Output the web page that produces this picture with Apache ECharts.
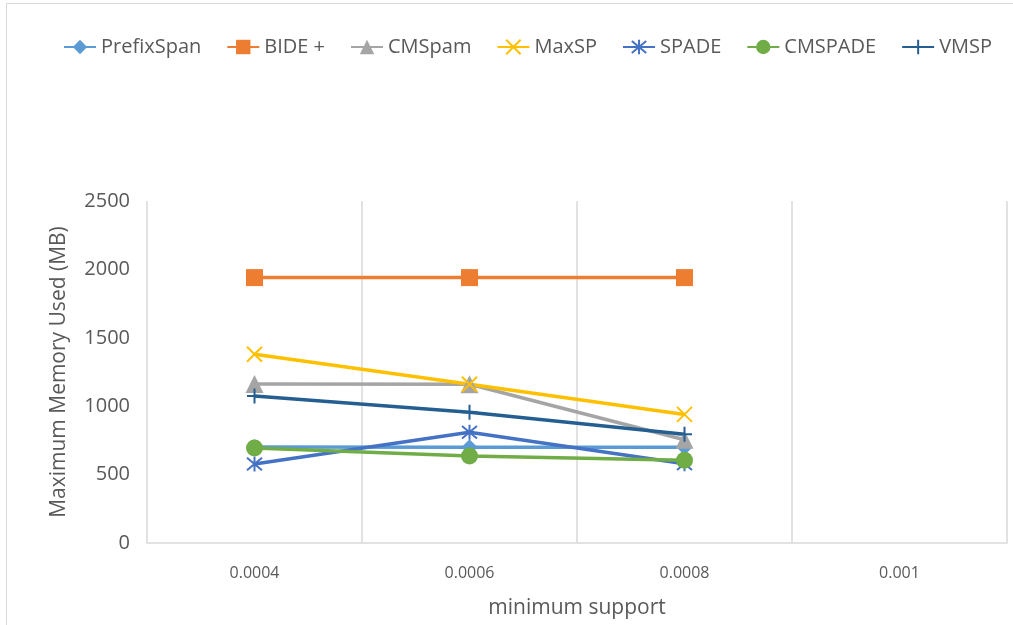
<!DOCTYPE html>
<html>
<head>
<meta charset="utf-8">
<script src="https://cdn.jsdelivr.net/npm/echarts@6/dist/echarts.min.js"></script>
<style>
  html, body { margin: 0; padding: 0; background: #ffffff; }
  #chart { width: 1013px; height: 625px; }
</style>
</head>
<body>
<div id="chart"></div>
<script>
// Minimum support thresholds (x categories)
const supports = ['0.0004', '0.0006', '0.0008', '0.001'];

// Maximum memory used (MB) per algorithm
const prefixSpan = [702, 700, 700, null];
const bidePlus   = [1940, 1940, 1940, null];
const cmSpam     = [1162, 1160, 755, null];
const maxSP      = [1380, 1160, 940, null];
const spade      = [577, 810, 580, null];
const cmSpade    = [694, 636, 605, null];
const vmsp       = [1075, 955, 795, null];

const yTicks = [0, 500, 1000, 1500, 2000, 2500];

const textColor = '#595959';
const fontFamily = '"Open Sans", "DejaVu Sans", sans-serif';

const crossPath = 'path://M0,0L10,10M10,0L0,10';
const starPath = 'path://M0,0L10,10M10,0L0,10M5,-1L5,11';
const plusPath = 'path://M5,0L5,10M0,5L10,5';

function lineSeries(name, data, color, symbol, size, stroked) {
  return {
    name: name,
    type: 'line',
    data: data,
    symbol: symbol,
    symbolSize: size,
    showAllSymbol: true,
    lineStyle: { color: color, width: 3.5 },
    itemStyle: stroked
      ? { color: color, borderColor: color, borderWidth: 2 }
      : { color: color, borderWidth: 0 },
    emphasis: { disabled: true },
    animation: false
  };
}

const chart = echarts.init(document.getElementById('chart'), null, { renderer: 'canvas' });

chart.setOption({
  backgroundColor: '#ffffff',
  textStyle: { fontFamily: fontFamily },
  graphic: [{
    type: 'rect',
    shape: { x: 6.5, y: 3.5, width: 1020, height: 640 },
    style: { fill: 'none', stroke: '#d9d9d9', lineWidth: 1 },
    silent: true
  }],
  legend: {
    top: 32,
    left: 58,
    itemWidth: 32,
    itemHeight: 18,
    itemGap: 25,
    textStyle: { color: textColor, fontSize: 20, fontFamily: fontFamily },
    data: ['PrefixSpan', 'BIDE +', 'CMSpam', 'MaxSP', 'SPADE', 'CMSPADE', 'VMSP']
  },
  grid: { left: 147, right: 6, top: 201, bottom: 82, containLabel: false, outerBoundsMode: 'none' },
  xAxis: {
    type: 'category',
    data: supports,
    boundaryGap: true,
    name: 'minimum support',
    nameLocation: 'middle',
    nameGap: 55,
    nameTextStyle: { color: textColor, fontSize: 21, fontFamily: fontFamily },
    axisLine: { show: true, lineStyle: { color: '#d9d9d9', width: 1.5 } },
    axisTick: { show: false },
    axisLabel: { color: textColor, fontSize: 16, margin: 22, fontFamily: fontFamily },
    splitLine: { show: true, lineStyle: { color: '#d9d9d9', width: 1.5 } }
  },
  yAxis: {
    type: 'value',
    min: yTicks[0],
    max: yTicks[yTicks.length - 1],
    interval: 500,
    name: 'Maximum Memory Used (MB)',
    nameLocation: 'middle',
    nameGap: 77,
    nameTextStyle: { color: textColor, fontSize: 21, fontFamily: fontFamily },
    axisLine: { show: false },
    axisTick: { show: false },
    axisLabel: {
      color: textColor, fontSize: 20, margin: 17, fontFamily: fontFamily,
      formatter: function (v) { return String(v); }
    },
    splitLine: { show: false }
  },
  series: [
    lineSeries('PrefixSpan', prefixSpan, '#5B9BD5', 'diamond', 16, false),
    lineSeries('BIDE +', bidePlus, '#ED7D31', 'rect', 17, false),
    lineSeries('CMSpam', cmSpam, '#A5A5A5', 'triangle', 18, false),
    lineSeries('MaxSP', maxSP, '#FFC000', crossPath, 15, true),
    lineSeries('SPADE', spade, '#4472C4', starPath, 15, true),
    lineSeries('CMSPADE', cmSpade, '#70AD47', 'circle', 17, false),
    lineSeries('VMSP', vmsp, '#255E91', plusPath, 15, true)
  ]
});
</script>
</body>
</html>
